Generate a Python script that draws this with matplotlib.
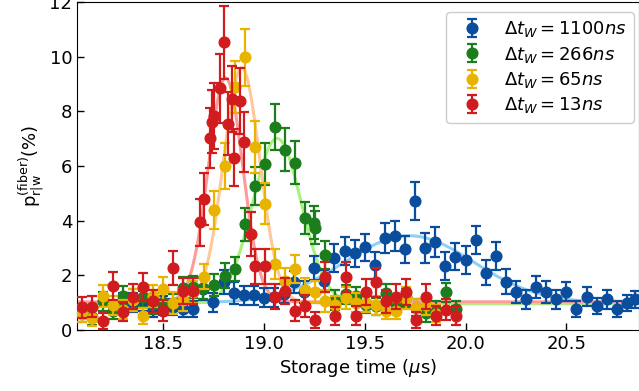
import numpy as np
import matplotlib
matplotlib.use("Agg")
import matplotlib.pyplot as plt

# ---------------- data ----------------
labels = [r"$\Delta t_W = 1100ns$", r"$\Delta t_W = 266ns$",
          r"$\Delta t_W = 65ns$", r"$\Delta t_W = 13ns$"]

blue_x = [18.30, 18.35, 18.40, 18.45, 18.50, 18.55, 18.60, 18.65, 18.70, 18.75,
          18.80, 18.85, 18.90, 18.95, 19.00, 19.05, 19.10, 19.15, 19.20, 19.25,
          19.30, 19.35, 19.40, 19.45, 19.50, 19.55, 19.60, 19.65, 19.70, 19.75,
          19.80, 19.85, 19.90, 19.95, 20.00, 20.05, 20.10, 20.15, 20.20, 20.25,
          20.30, 20.35, 20.40, 20.45, 20.50, 20.55, 20.60, 20.65, 20.70, 20.75,
          20.80, 20.84]
blue_y = [1.02, 1.00, 1.06, 0.77, 0.90, 0.85, 0.77, 0.77, 1.51, 1.02,
          1.76, 1.34, 1.27, 1.27, 1.18, 1.20, 1.32, 1.76, 1.40, 2.27,
          1.78, 2.64, 2.89, 2.80, 3.02, 2.36, 3.35, 3.45, 2.95, 4.72,
          2.99, 3.21, 2.34, 2.68, 2.56, 3.29, 2.10, 2.71, 1.77, 1.40,
          1.12, 1.58, 1.40, 1.12, 1.40, 0.76, 1.22, 0.88, 1.12, 0.76,
          0.98, 1.12]
blue_err = [0.35, 0.35, 0.35, 0.30, 0.35, 0.30, 0.30, 0.30, 0.40, 0.35,
            0.45, 0.40, 0.35, 0.35, 0.35, 0.35, 0.35, 0.40, 0.40, 0.45,
            0.40, 0.50, 0.50, 0.50, 0.50, 0.50, 0.55, 0.55, 0.50, 0.70,
            0.55, 0.55, 0.50, 0.50, 0.50, 0.50, 0.45, 0.50, 0.45, 0.40,
            0.35, 0.40, 0.40, 0.35, 0.35, 0.30, 0.35, 0.30, 0.35, 0.30,
            0.30, 0.30]

green_x = [18.10, 18.15, 18.20, 18.25, 18.30, 18.35, 18.40, 18.45, 18.50, 18.55,
           18.60, 18.65, 18.70, 18.755, 18.805, 18.855, 18.905, 18.955, 19.005, 19.055,
           19.105, 19.155, 19.205, 19.25, 19.255, 19.305, 19.355, 19.405, 19.455, 19.505,
           19.555, 19.605, 19.655, 19.705, 19.755, 19.805, 19.855, 19.905, 19.955]
green_y = [0.61, 0.48, 1.05, 0.70, 1.26, 1.15, 1.20, 0.95, 1.04, 0.95,
           1.55, 1.57, 1.55, 1.65, 1.99, 2.23, 3.86, 5.27, 6.07, 7.43,
           6.60, 6.12, 4.10, 3.92, 3.75, 2.74, 1.10, 1.30, 1.24, 0.93,
           0.86, 1.34, 0.95, 1.20, 0.82, 0.61, 0.75, 1.38, 0.76]
green_err = [0.30, 0.30, 0.35, 0.30, 0.35, 0.35, 0.35, 0.35, 0.35, 0.35,
             0.40, 0.40, 0.40, 0.40, 0.45, 0.45, 0.60, 0.70, 0.78, 0.85,
             0.80, 0.78, 0.60, 0.60, 0.60, 0.50, 0.35, 0.35, 0.35, 0.30,
             0.30, 0.35, 0.30, 0.35, 0.30, 0.30, 0.30, 0.35, 0.30]

yellow_x = [18.10, 18.15, 18.20, 18.25, 18.30, 18.35, 18.40, 18.45, 18.50, 18.55,
            18.60, 18.65, 18.705, 18.755, 18.805, 18.855, 18.905, 18.955, 19.005, 19.055,
            19.105, 19.155, 19.205, 19.255, 19.305, 19.355, 19.405, 19.455, 19.505, 19.555,
            19.605, 19.655, 19.705, 19.755, 19.805, 19.855]
yellow_y = [0.60, 0.43, 1.24, 0.90, 0.75, 1.10, 0.51, 1.25, 1.50, 1.00,
            1.10, 1.40, 1.95, 4.40, 6.00, 8.88, 9.97, 6.70, 4.62, 2.42,
            1.81, 2.23, 1.45, 1.40, 1.05, 0.90, 1.16, 1.00, 1.00, 0.90,
            0.71, 0.71, 1.16, 0.80, 0.90, 0.60]
yellow_err = [0.30, 0.30, 0.40, 0.35, 0.35, 0.40, 0.30, 0.40, 0.45, 0.40,
              0.40, 0.40, 0.45, 0.70, 0.85, 0.95, 1.05, 0.95, 0.75, 0.55,
              0.45, 0.50, 0.45, 0.40, 0.40, 0.35, 0.40, 0.35, 0.35, 0.35,
              0.30, 0.30, 0.40, 0.35, 0.35, 0.30]

red_x = [18.10, 18.15, 18.20, 18.25, 18.30, 18.35, 18.40, 18.45, 18.50, 18.55,
         18.60, 18.65, 18.685, 18.705, 18.733, 18.745, 18.755, 18.783, 18.804, 18.824,
         18.841, 18.852, 18.882, 18.903, 18.935, 18.955, 19.005, 19.055, 19.105, 19.155,
         19.205, 19.255, 19.305, 19.355, 19.405, 19.455, 19.505, 19.555, 19.605, 19.655,
         19.705, 19.755, 19.805, 19.855, 19.905, 19.955]
red_y = [0.83, 0.85, 0.34, 1.60, 0.67, 1.22, 1.58, 1.05, 0.71, 2.27,
         1.43, 1.44, 3.94, 4.80, 7.03, 7.62, 7.82, 8.84, 10.52, 7.54,
         8.45, 6.31, 8.37, 6.89, 3.50, 2.33, 2.33, 1.22, 1.44, 0.71,
         0.88, 0.37, 1.95, 0.51, 1.95, 0.53, 1.40, 1.74, 1.05, 1.22,
         1.40, 0.37, 1.22, 0.53, 0.75, 0.53]
red_err = [0.38, 0.38, 0.30, 0.52, 0.35, 0.45, 0.52, 0.42, 0.38, 0.62,
           0.48, 0.48, 0.85, 0.95, 1.10, 1.15, 1.20, 1.25, 1.35, 1.15,
           1.20, 1.05, 1.20, 1.10, 0.80, 0.65, 0.65, 0.45, 0.48, 0.38,
           0.40, 0.30, 0.55, 0.33, 0.55, 0.33, 0.48, 0.52, 0.42, 0.45,
           0.48, 0.30, 0.45, 0.33, 0.38, 0.33]

# Gaussian fit parameters (blue, green, yellow, red)
fit_center = [19.72, 19.065, 18.89, 18.81]
fit_sigma = [0.32, 0.121, 0.09, 0.085]
fit_amp = [2.45, 6.05, 8.6, 8.2]
fit_offset = [1.0, 0.96, 1.0, 1.03]

point_colors = ["#0a4d9c", "#1b7d1b", "#e8b400", "#d01c1f"]
fit_colors = ["#8fd0f5", "#a6f27a", "#ffc89a", "#ff9a9a"]

# ---------------- figure ----------------
fig = plt.figure(figsize=(6.39, 3.91), dpi=100)
ax = fig.add_axes([77 / 639, 61 / 391, 1 - 77 / 639, 328 / 391])

xs = [blue_x, green_x, yellow_x, red_x]
ys = [blue_y, green_y, yellow_y, red_y]
es = [blue_err, green_err, yellow_err, red_err]

xfine = np.linspace(18.0, 21.0, 600)
for i in range(4):
    yfit = fit_offset[i] + fit_amp[i] * np.exp(-(xfine - fit_center[i]) ** 2 / (2 * fit_sigma[i] ** 2))
    ax.plot(xfine, yfit, color=fit_colors[i], lw=2.2, zorder=1)

for i in range(4):
    ax.errorbar(xs[i], ys[i], yerr=es[i], fmt="o", color=point_colors[i],
                ms=7.7, capsize=3.6, elinewidth=1.6, capthick=1.6,
                label=labels[i], zorder=2 + i)

ax.set_xlim(18.0734, 20.86)
ax.set_ylim(0, 12)
ax.set_xticks([18.5, 19.0, 19.5, 20.0, 20.5])
ax.set_yticks([0, 2, 4, 6, 8, 10, 12])
ax.tick_params(direction="in", labelsize=13, length=5, width=1)
ax.set_xlabel(r"Storage time ($\mu$s)", fontsize=13, labelpad=3)
ax.set_ylabel(r"$\mathrm{p}_{\mathrm{r|w}}^{(\mathrm{fiber})}$(%)", fontsize=13, labelpad=2)

leg = ax.legend(loc="upper right", fontsize=13, labelspacing=0.3,
                framealpha=1, borderaxespad=0,
                bbox_to_anchor=((634 - 77) / 562, (330 - 12) / 328))
leg.get_frame().set_edgecolor("#cccccc")

fig.savefig("out.png", dpi=100)
